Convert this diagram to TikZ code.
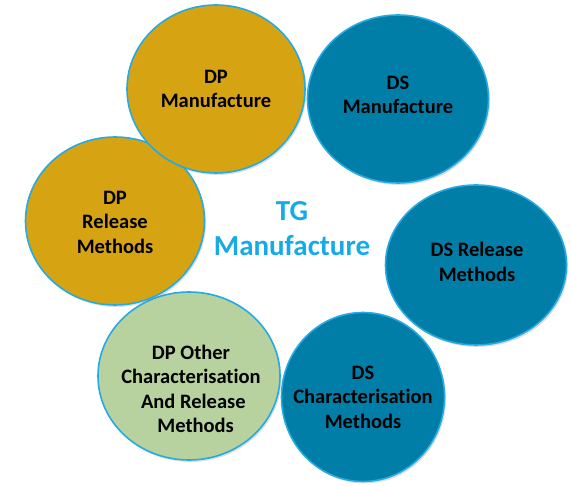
\documentclass[tikz,border=0pt]{standalone}
\usepackage{fontspec}
\setmainfont{Carlito}[Ligatures=NoCommon]
\usetikzlibrary{shapes.geometric,shadows}
\definecolor{gold}{RGB}{214,163,18}
\definecolor{teal}{RGB}{0,126,168}
\definecolor{sage}{RGB}{183,209,159}
\definecolor{rim}{RGB}{38,170,226}
\definecolor{titleblue}{RGB}{22,170,230}
\tikzset{
  bubble/.style={ellipse, draw=rim, line width=1.6pt, inner sep=0pt,
    drop shadow={opacity=0.25, shadow xshift=1.5pt, shadow yshift=-2pt}},
  dp/.style={bubble, fill=gold},
  ds/.style={bubble, fill=teal},
  other/.style={bubble, fill=sage},
  caption/.style={align=center, font=\fontsize{20.5}{24.5}\selectfont\bfseries, text=black, inner sep=0pt}
}
\begin{document}
\begin{tikzpicture}[x=1pt,y=-1pt]
  \useasboundingbox (0,0) rectangle (571,486);
  % drug substance ring (right side)
  \node[ds, minimum width=163pt, minimum height=169pt] (dschar) at (363,397) {};
  \node[caption] (dschartext) at (363,397) {DS\\Characterisation\\Methods};
  \node[ds, minimum width=181pt, minimum height=160pt] (dsrel) at (476,265) {};
  \node[caption] (dsreltext) at (477,262) {DS Release\\Methods};
  \node[ds, minimum width=181pt, minimum height=168pt] (dsman) at (398,99) {};
  \node[caption] (dsmantext) at (398,95) {DS\\Manufacture};
  % drug product ring (left side)
  \node[other, minimum width=182pt, minimum height=168pt] (dpother) at (189,376) {};
  \node[caption] (dpothertext) at (191,389) {DP Other\\Characterisation\\\ And Release\\\ \ Methods};
  \node[dp, minimum width=179pt, minimum height=168pt] (dprel) at (115,221) {};
  \node[caption] (dpreltext) at (115,222) {DP\\Release\\Methods};
  \node[dp, minimum width=178pt, minimum height=168pt] (dpman) at (216,89) {};
  \node[caption] (dpmantext) at (216,89) {DP\\Manufacture};
  % centre title
  \node[text=titleblue, font=\fontsize{29}{35}\selectfont\bfseries, align=center] (tg) at (292,229) {TG\\Manufacture};
\end{tikzpicture}
\end{document}
